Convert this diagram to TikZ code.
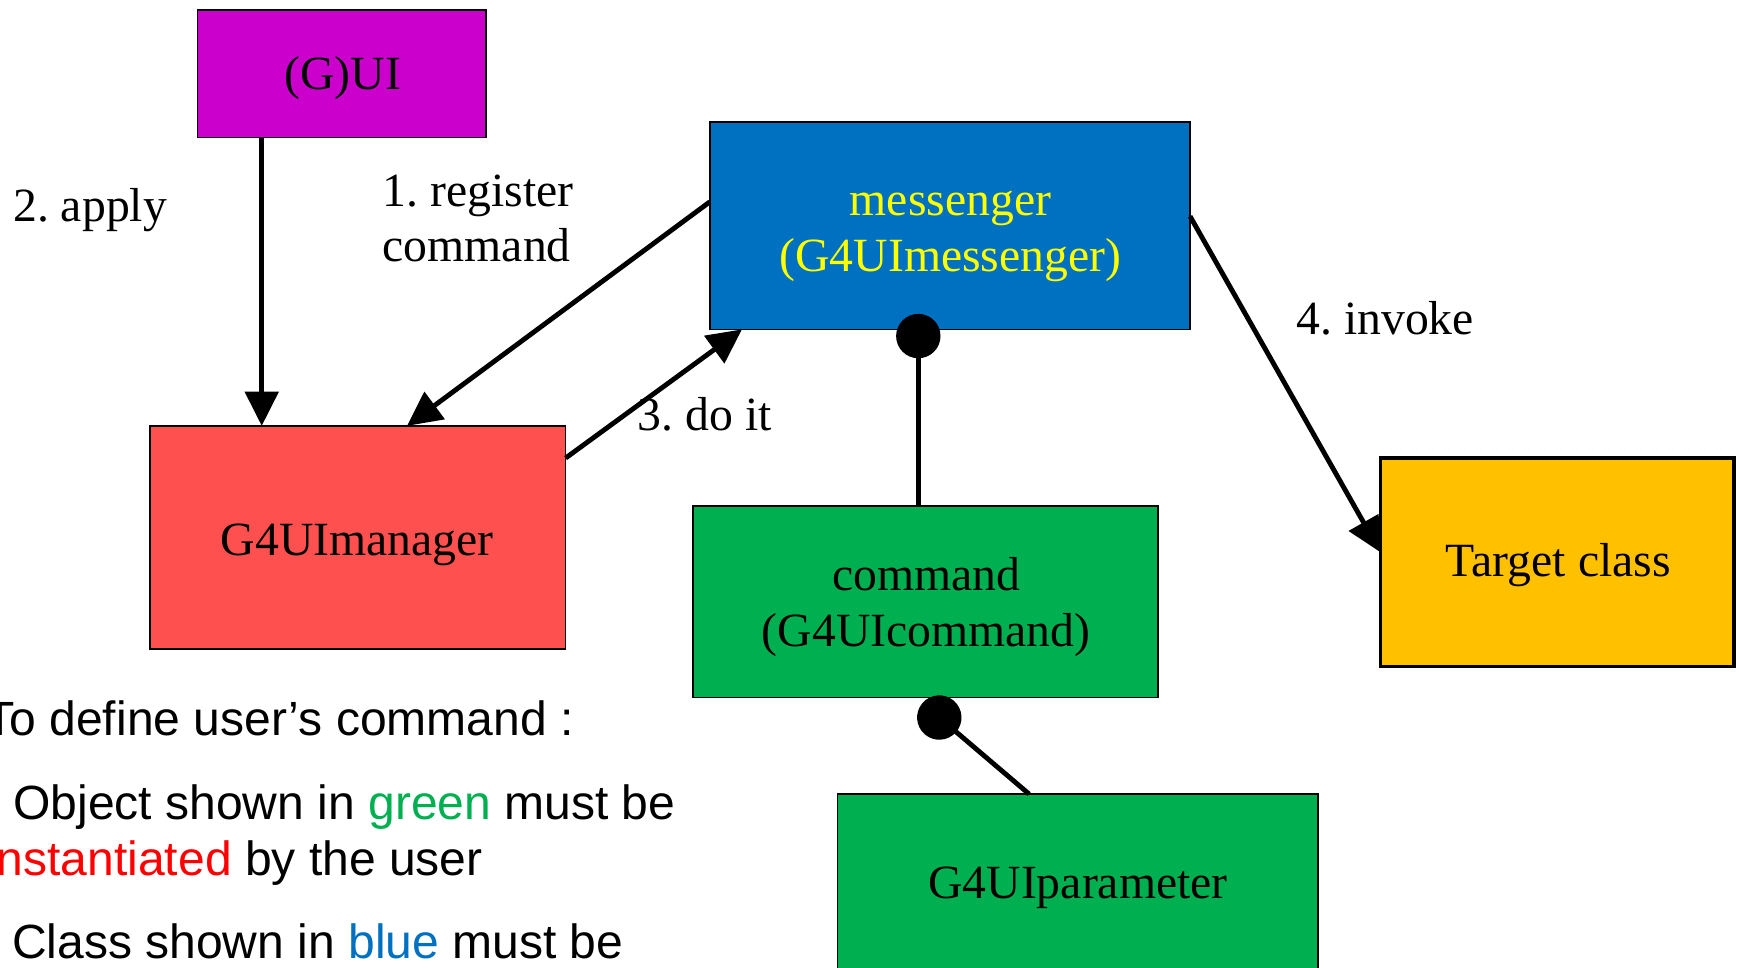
\documentclass[tikz,border=0pt]{standalone}
\usepackage{fontspec}
\setmainfont{Liberation Serif}
\newfontfamily\sansf{Liberation Sans}
\usetikzlibrary{arrows.meta}
\definecolor{guicol}{HTML}{CC00CC}
\definecolor{msgcol}{HTML}{0070C0}
\definecolor{mgrcol}{HTML}{FF5050}
\definecolor{grncol}{HTML}{00B050}
\definecolor{tgtcol}{HTML}{FFC000}
\definecolor{txtyel}{HTML}{FFFF00}
\definecolor{txtred}{HTML}{FF0000}
\frenchspacing
\begin{document}
\begin{tikzpicture}[x=0.5pt,y=-0.5pt,
  umlbox/.style={draw=black,line width=0.75pt,inner sep=0pt,outer sep=0pt,rectangle},
  lbl/.style={font=\frenchspacing\fontsize{21.5pt}{25pt}\selectfont,inner sep=0pt,outer sep=0pt},
  sanstxt/.style={font=\sansf\fontsize{21.65pt}{25pt}\selectfont,inner sep=0pt,outer sep=0pt,anchor=base west},
  conn/.style={line width=2.2pt,-{Triangle[length=15.5pt,width=15pt]}},
  dotlink/.style={line width=2.2pt,{Circle[length=20pt,width=20pt]}-}]
\useasboundingbox (0,0) rectangle (1568,872);
\fill[white] (0,0) rectangle (1568,872);
\clip (0,0) rectangle (1568,872);
% boxes
\node[umlbox,fill=guicol,minimum width=130pt,minimum height=57.5pt] (gui) at (308,66.5) {};
\node[umlbox,fill=msgcol,minimum width=216.5pt,minimum height=93.5pt] (msg) at (856.5,203.5) {};
\node[umlbox,fill=mgrcol,minimum width=187.5pt,minimum height=100.5pt] (mgr) at (322.5,484.5) {};
\node[umlbox,fill=grncol,minimum width=209.5pt,minimum height=86.5pt] (cmd) at (834.5,542.5) {};
\node[umlbox,fill=tgtcol,line width=1.7pt,minimum width=159.25pt,minimum height=94pt] (tgt) at (1404,507) {};
\node[umlbox,fill=grncol,minimum width=216.75pt,minimum height=100pt] (par) at (971.75,816) {};
% box texts
\node[lbl,anchor=base] (guit) at (309,81) {(G)UI};
\node[lbl,anchor=base,text=txtyel] (msgt1) at (857,194) {messenger};
\node[lbl,anchor=base,text=txtyel] (msgt2) at (857,245) {(G4UImessenger)};
\node[lbl,anchor=base] (mgrt) at (322,501) {G4UImanager};
\node[lbl,anchor=base] (cmdt1) at (835,532) {command};
\node[lbl,anchor=base] (cmdt2) at (835,583) {(G4UIcommand)};
\node[lbl,anchor=base] (tgtt) at (1405,520) {Target class};
\node[lbl,anchor=base] (part) at (972,810) {G4UIparameter};
% connector labels
\node[lbl,anchor=base west] (l2) at (12,200) {2. apply};
\node[lbl,anchor=base west] (l1a) at (345,186.5) {1. register};
\node[lbl,anchor=base west] (l1b) at (345,236) {command};
\node[lbl,anchor=base west] (l3) at (575,388) {3. do it};
\node[lbl,anchor=base west] (l4) at (1169,302) {4. invoke};
% connectors
\draw[conn] ([xshift=29pt]gui.south west) -- ([xshift=50.5pt]mgr.north west);
\draw[conn] ([yshift=10.75pt]msg.west) -- ([xshift=116pt]mgr.north west);
\draw[conn] ([yshift=35.75pt]mgr.east) -- ([xshift=14.5pt]msg.south west);
\draw[conn] ([yshift=4.25pt]msg.east) -- ([yshift=4.5pt]tgt.west);
\draw[dotlink] ([xshift=-14.25pt,yshift=7pt]msg.south) -- ([xshift=-3.25pt]cmd.north);
\draw[dotlink] ([xshift=-1.4pt,yshift=-2.5pt]cmd.south) -- ([xshift=-21.9pt]par.north);
% notes
\node[sanstxt] (n1) at (-13,663) {To define user’s command :};
\node[sanstxt] (n2) at (12,739) {Object shown in \textcolor{grncol}{green} must be};
\node[sanstxt] (n3) at (-12.5,789) {\textcolor{txtred}{instantiated} by the user};
\node[sanstxt] (n4) at (11,864) {Class shown in \textcolor{msgcol}{blue} must be};
\end{tikzpicture}
\end{document}
